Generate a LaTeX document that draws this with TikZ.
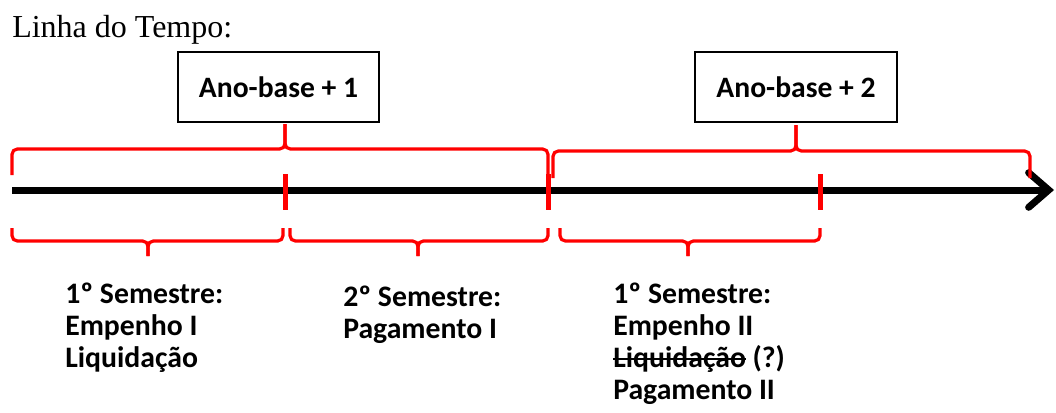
\documentclass[tikz,border=0pt]{standalone}
\usepackage{fontspec}
\setmainfont{Liberation Serif}
\newfontfamily\calib{Carlito}
\usetikzlibrary{arrows.meta}

% struck-out word: a rule laid over the word at mid x-height
\newsavebox\struckbox
\newcommand\struck[1]{\sbox\struckbox{#1}\rlap{\rule[0.24em]{\wd\struckbox}{1.7pt}}\usebox\struckbox}

\tikzset{
  yearbox/.style={draw=black, line width=1.5pt, minimum width=151pt, minimum height=52.5pt,
    inner sep=0pt, font=\calib\bfseries\fontsize{22.2}{24}\selectfont},
  bracket/.style={draw=red, line width=2.4pt, rounded corners=4pt},
  semtick/.style={draw=red, line width=3.75pt},
  axis/.style={draw=black, line width=5.25pt,
    -{Straight Barb[length=15pt,width=26pt,line cap=round]}},
  semtext/.style={anchor=base west, align=left, inner sep=0pt,
    font=\calib\bfseries\fontsize{22.3}{24}\selectfont},
  heading/.style={anchor=base west, inner sep=0pt, font=\fontsize{24}{26}\selectfont},
}

% brace made of two halves meeting at the spike:
% #1 left end x, #2 right end x, #3 spike x, #4 end y, #5 bar y, #6 spike y
\newcommand\timelinebrace[6]{%
  \draw[bracket] (#1,#4) -- (#1,#5) -- (#3,#5) -- (#3,#6);
  \draw[bracket] (#3,#6) -- (#3,#5) -- (#2,#5) -- (#2,#4);}

\begin{document}
\begin{tikzpicture}[x=0.75pt, y=-0.75pt]
\useasboundingbox (0,0) rectangle (1056,412);

% heading
\node[heading] (title) at (12,37) {Linha do Tempo:};

% year boxes
\node[yearbox] (year1) at (278.5,87) {Ano-base + 1};
\node[yearbox] (year2) at (796,87) {Ano-base + 2};

% time axis
\coordinate (start) at (12,190);
\coordinate (finish) at (1054,190);
\draw[axis] (start) -- (finish);

% semester boundaries
\draw[semtick] (285,174) -- (285,210);
\draw[semtick] (548,174) -- (548,210);
\draw[semtick] (820,174) -- (820,210);

% year braces above the axis
\timelinebrace{12}{548}{285}{175}{149}{124}
\timelinebrace{553}{1030}{796}{178}{151}{125}

% semester braces below the axis
\timelinebrace{12}{283}{148}{228}{241}{256}
\timelinebrace{290}{548}{418}{228}{241}{256}
\timelinebrace{560}{820}{688}{228}{241}{256}

% semester descriptions (anchored at the baseline of the last line)
\node[semtext] (sem1) at (65,367) {1º Semestre:\\Empenho I\\Liquidação};
\node[semtext] (sem2) at (343,338) {2º Semestre:\\Pagamento I};
\node[semtext] (sem3) at (613,399) {1º Semestre:\\Empenho II\\\struck{Liquidação} (?)\\Pagamento II};
\end{tikzpicture}
\end{document}
